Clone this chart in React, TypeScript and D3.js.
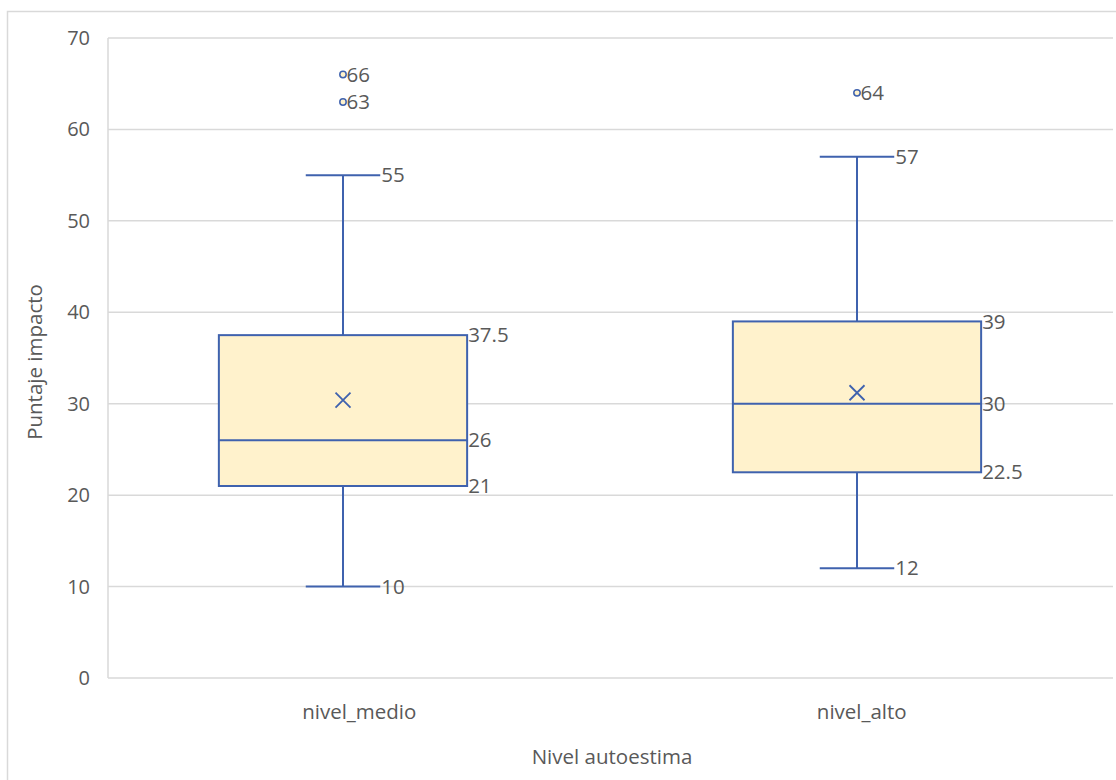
import React from "react";
import * as d3 from "d3";

const categories = ["nivel_medio", "nivel_alto"];
const whiskerLow = [10, 12];
const q1 = [21, 22.5];
const median = [26, 30];
const q3 = [37.5, 39];
const whiskerHigh = [55, 57];
const means = [30.4, 31.2];
const outliers = [[66, 63], [64]];
const yTicks = [0, 10, 20, 30, 40, 50, 60, 70];

const W = 1116;
const H = 780;
const plotLeft = 108;
const plotRight = 1113;
const plotTop = 38;
const plotBottom = 678;
const font = "'Open Sans', 'Segoe UI', sans-serif";
const textColor = "#595959";
const boxStroke = "#3F62AE";
const boxFill = "#FFF2CC";
const grid = "#D9D9D9";

export default function App() {
  const y = d3.scaleLinear().domain([0, 70]).range([plotBottom, plotTop]);
  const x = d3.scaleBand().domain(categories).range([86, 1114]);
  const xLabel = d3.scaleBand().domain(categories).range([plotLeft, plotRight]);
  const bw = x.bandwidth();
  const boxW = bw * 0.483;
  const capW = boxW * 0.3;
  const fs = 20.5;

  return (
    <svg width={W} height={H} style={{ position: "absolute", left: 0, top: 0 }}>
      <rect x={0} y={0} width={W} height={H} fill="#fff" />
      <rect x={7.5} y={11.5} width={W + 10} height={H + 10} fill="none" stroke={grid} strokeWidth={1.5} />
      {yTicks.map((t) => (
        <g key={t}>
          <line x1={plotLeft} x2={plotRight} y1={y(t)} y2={y(t)} stroke={grid} strokeWidth={1.5} />
          <text x={90} y={y(t)} dy="0.35em" textAnchor="end" fontFamily={font} fontSize={20} fill={textColor}>
            {t}
          </text>
        </g>
      ))}
      <line x1={plotLeft} x2={plotLeft} y1={plotTop} y2={plotBottom} stroke={grid} strokeWidth={1.5} />
      {categories.map((c, i) => {
        const cx = (x(c) as number) + bw / 2;
        const bl = cx - boxW / 2;
        const br = cx + boxW / 2;
        const m = 7.5;
        return (
          <g key={c}>
            <line x1={cx} x2={cx} y1={y(whiskerHigh[i])} y2={y(q3[i])} stroke={boxStroke} strokeWidth={2} />
            <line x1={cx} x2={cx} y1={y(q1[i])} y2={y(whiskerLow[i])} stroke={boxStroke} strokeWidth={2} />
            <line x1={cx - capW / 2} x2={cx + capW / 2} y1={y(whiskerHigh[i])} y2={y(whiskerHigh[i])} stroke={boxStroke} strokeWidth={2} />
            <line x1={cx - capW / 2} x2={cx + capW / 2} y1={y(whiskerLow[i])} y2={y(whiskerLow[i])} stroke={boxStroke} strokeWidth={2} />
            <rect x={bl} y={y(q3[i])} width={boxW} height={y(q1[i]) - y(q3[i])} fill={boxFill} stroke={boxStroke} strokeWidth={2} />
            <line x1={bl} x2={br} y1={y(median[i])} y2={y(median[i])} stroke={boxStroke} strokeWidth={2} />
            <path
              d={`M${cx - m},${y(means[i]) - m}L${cx + m},${y(means[i]) + m}M${cx - m},${y(means[i]) + m}L${cx + m},${y(means[i]) - m}`}
              stroke={boxStroke}
              strokeWidth={1.8}
            />
            {[q3[i], median[i], q1[i]].map((v, k) => (
              <text key={k} x={br + 1} y={y(v)} dy="0.35em" fontFamily={font} fontSize={fs} fill={textColor}>
                {v}
              </text>
            ))}
            {[whiskerHigh[i], whiskerLow[i]].map((v, k) => (
              <text key={"w" + k} x={cx + capW / 2 + 1} y={y(v)} dy="0.35em" fontFamily={font} fontSize={fs} fill={textColor}>
                {v}
              </text>
            ))}
            {outliers[i].map((v, k) => (
              <g key={"o" + k}>
                <circle cx={cx} cy={y(v)} r={3.2} fill={boxFill} stroke={boxStroke} strokeWidth={1.5} />
                <text x={cx + 3.5} y={y(v)} dy="0.35em" fontFamily={font} fontSize={fs} fill={textColor}>
                  {v}
                </text>
              </g>
            ))}
            <text
              x={(xLabel(c) as number) + xLabel.bandwidth() / 2}
              y={712}
              dy="0.35em"
              textAnchor="middle"
              fontFamily={font}
              fontSize={fs}
              fill={textColor}
            >
              {c}
            </text>
          </g>
        );
      })}
      <text x={612} y={757} dy="0.35em" textAnchor="middle" fontFamily={font} fontSize={fs} fill={textColor}>
        Nivel autoestima
      </text>
      <text
        transform={`translate(35,362) rotate(-90)`}
        dy="0.35em"
        textAnchor="middle"
        fontFamily={font}
        fontSize={fs}
        fill={textColor}
      >
        Puntaje impacto
      </text>
    </svg>
  );
}
